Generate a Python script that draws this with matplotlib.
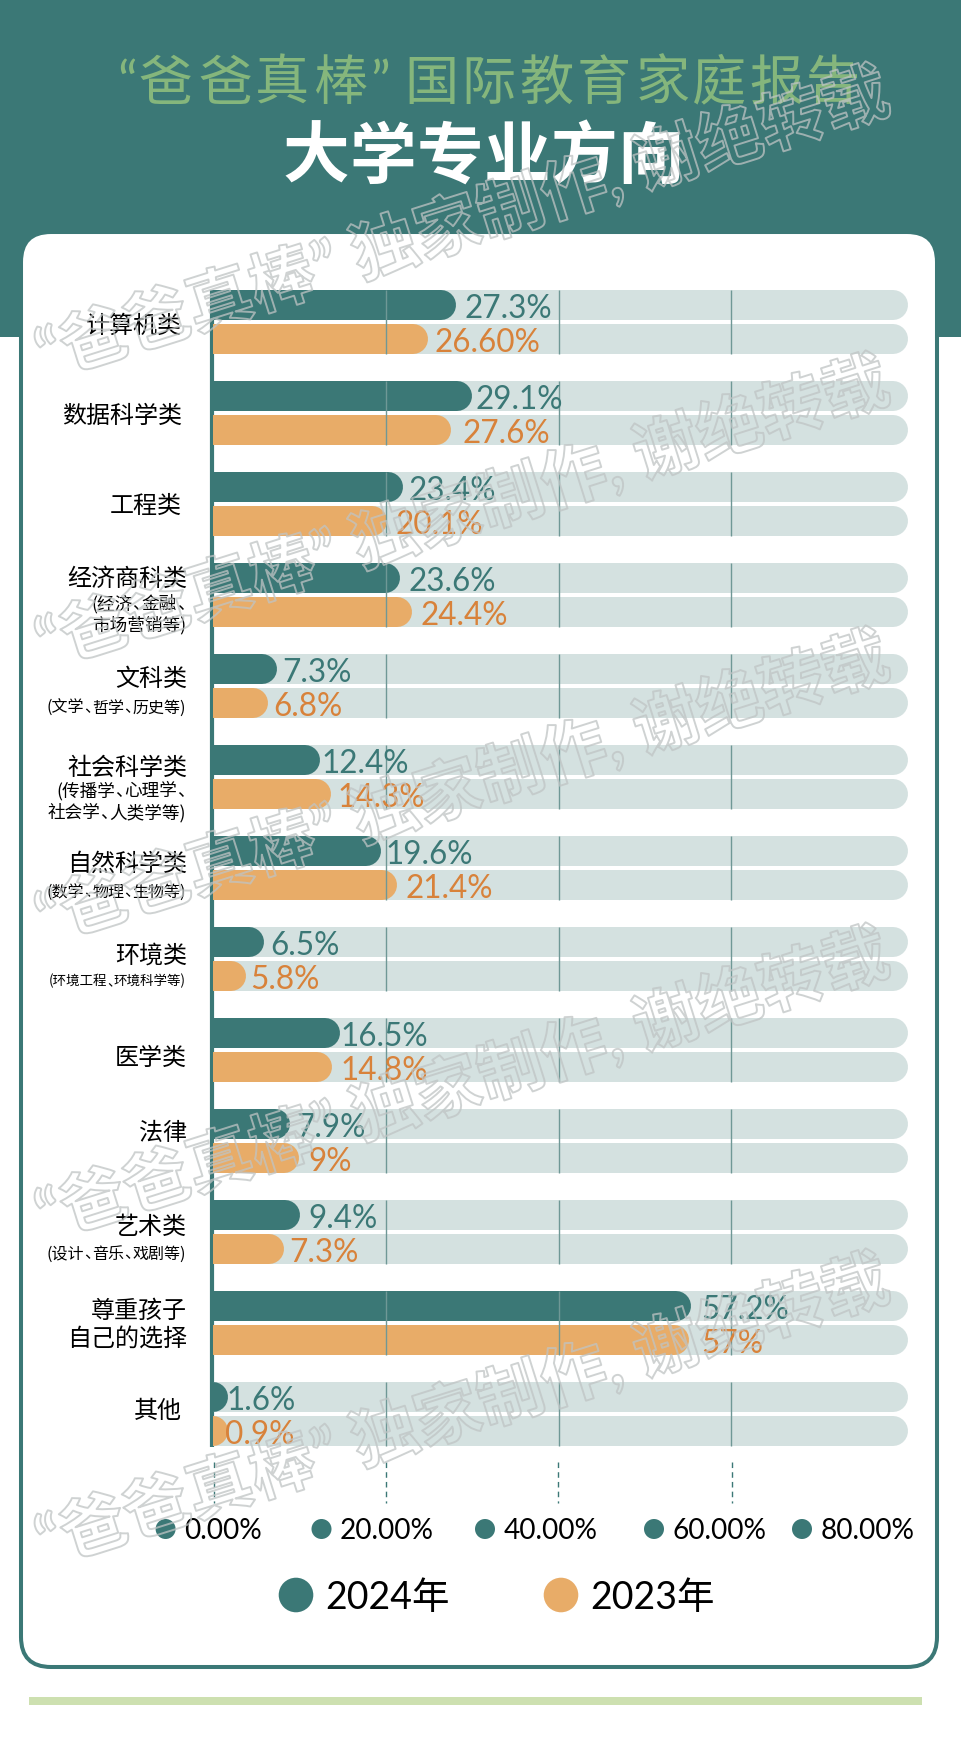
import re
import matplotlib
matplotlib.use("Agg")
import matplotlib.pyplot as plt
import matplotlib.patheffects as pe
import numpy as np
from matplotlib.patches import Rectangle, FancyBboxPatch, Circle

plt.rcParams['font.family'] = ['Lato', 'Noto Sans CJK SC', 'DejaVu Sans']

TEAL = '#3b7876'
ORANGE = '#e8ac68'
TRACK = '#d4e1e0'
ORANGE_TXT = '#d8823a'
GREEN = '#85b67c'

# values as printed
labels_2024 = ['27.3%', '29.1%', '23.4%', '23.6%', '7.3%', '12.4%', '19.6%', '6.5%', '16.5%', '7.9%', '9.4%', '57.2%', '1.6%']
labels_2023 = ['26.60%', '27.6%', '20.1%', '24.4%', '6.8%', '14.3%', '21.4%', '5.8%', '14.8%', '9%', '7.3%', '57%', '0.9%']

# bar lengths as drawn, read against the gridlines (they differ a bit from the printed values)
bars_2024 = [28.1, 30.0, 22.0, 21.6, 7.4, 12.3, 19.4, 5.9, 14.7, 8.9, 10.0, 55.3, 1.0]
bars_2023 = [24.8, 27.5, 20.1, 23.0, 6.3, 13.6, 21.3, 3.8, 13.7, 9.9, 8.2, 55.1, 0.7]
track_end = 80.5

# gap between bar end and its label, in points
gap_2024 = [6, 2.5, 4, 6, 3.5, 1.5, 3.5, 4, 0, 4.5, 6, 7.5, 3]
gap_2023 = [5, 8.5, 6.5, 6, 4, 4.5, 6, 2.5, 6.5, 6.5, 3.5, 9, 4]

grid_ticks = [20, 40, 60]
tick_labels = ['0.00%', '20.00%', '40.00%', '60.00%', '80.00%']
legend_labels = ['2024年', '2023年']

# main category labels: text, right edge, y centre
cat_labels = [
    ('计算机类', 182, 325), ('数据科学类', 182, 415), ('工程类', 182, 505), ('经济商科类', 187, 578),
    ('文科类', 187, 678), ('社会科学类', 187, 767), ('自然科学类', 187, 863), ('环境类', 187, 955),
    ('医学类', 187, 1057), ('法律', 187, 1132), ('艺术类', 187, 1226), ('尊重孩子', 187, 1310),
    ('自己的选择', 187, 1338), ('其他', 182, 1410),
]
# small notes under them: text, y centre, glyph size in px
sub_labels = [
    ('(经济、金融、', 602, 17.6), ('市场营销等)', 623, 17.6), ('(文学、哲学、历史等)', 706, 16),
    ('(传播学、心理学、', 789, 17.6), ('社会学、人类学等)', 811, 17.6), ('(数学、物理、生物等)', 890, 16),
    ('(环境工程、环境科学等)', 979, 13.5), ('(设计、音乐、戏剧等)', 1252, 16),
]

W, H = 962, 1742
fig = plt.figure(figsize=(W / 100, H / 100), dpi=100, facecolor='white')


def px_axes(z):
    ax = fig.add_axes([0, 0, 1, 1], zorder=z)
    ax.set_xlim(0, W)
    ax.set_ylim(H, 0)
    ax.axis('off')
    ax.patch.set_alpha(0)
    return ax


def draw_sub_label(ax, txt, right, y, size):
    # the 、 and brackets are narrow in the original, so lay runs out from the right by hand
    x = right
    fs = size * 0.72
    for part in reversed(re.split('(、)', txt)):
        if not part:
            continue
        if part == '、':
            x -= size * 0.52
        else:
            x -= size * sum(c not in '()' for c in part) + size * 0.34 * sum(c in '()' for c in part)
        ax.text(x, y, part, fontsize=fs, ha='left', va='center', family=['Noto Sans CJK SC'])


bg = px_axes(0)
bg.add_patch(Rectangle((0, 0), W, 337, color=TEAL, lw=0))
bg.add_patch(FancyBboxPatch((21, 232), 916, 1435, boxstyle='round,pad=0,rounding_size=30',
                            fc='white', ec=TEAL, lw=2.9))
bg.add_patch(Rectangle((29.5, 1697), 892.5, 8, color='#cde0b0', lw=0))

# title, placed glyph by glyph for the wide spacing
title_x = [127, 166, 226, 282, 340, 380, 431, 488, 546, 604, 663, 719, 776, 833]
for ch, x in zip('“爸爸真棒”国际教育家庭报告', title_x):
    bg.text(x, 84, ch, color=GREEN, fontsize=39, ha='center', va='center',
            family=['Lato', 'Noto Sans CJK SC'] if ch in '“”' else ['Noto Sans CJK SC'])
for i, ch in enumerate('大学专业方向'):
    bg.text(316 + 67 * i, 158, ch, color='white', fontsize=48, fontweight='bold',
            ha='center', va='center', family=['Noto Sans CJK SC'])

for txt, x, y in cat_labels:
    bg.text(x, y + 0.5, txt, fontsize=17.3, ha='right', va='center', color='black',
            family=['Noto Sans CJK SC'])
for txt, y, size in sub_labels:
    draw_sub_label(bg, txt, 186, y + 2, size)

# axis stub and dashed guides below the bars
bg.plot([212.5, 212.5], [290, 1447], color=TEAL, lw=3, solid_capstyle='butt')
for x in [214, 386, 558, 732]:
    bg.plot([x, x], [1462, 1503], color=TEAL, lw=1, ls=(0, (4, 3)))

# x tick labels with dots
dot_x = [165.6, 321.5, 485, 654, 802]
for x, txt in zip(dot_x, tick_labels):
    bg.add_patch(Circle((x, 1529), 10, color=TEAL, lw=0))
    bg.text(x + 18.5, 1531, txt, fontsize=20.2, ha='left', va='center', color='black')

# legend
for x, txt, c in zip([296, 561], legend_labels, [TEAL, ORANGE]):
    bg.add_patch(Circle((x, 1595), 17.3, color=c, lw=0))
    bg.text(x + 29, 1598, txt, fontsize=27, ha='left', va='center', color='black')

# chart axes: 0% at 213.5px, 8.63 px per percent, rows 91px apart
left_px, right_px = 213.5, 950
top_px, bottom_px = 285, 1450
row0_px, pitch = 322, 91
ax = fig.add_axes([left_px / W, 1 - bottom_px / H, (right_px - left_px) / W, (bottom_px - top_px) / H],
                  zorder=1)
ax.set_xlim(0, (right_px - left_px) / 8.63)
ax.set_ylim((bottom_px - row0_px) / pitch, (top_px - row0_px) / pitch)
ax.axis('off')
ax.patch.set_alpha(0)

rows = np.arange(len(bars_2024))
y_a = rows - 17 / pitch
y_b = rows + 17 / pitch
bar_pt = 30 * 72 / 100
r = 15 / 8.63

ax.hlines(np.r_[y_a, y_b], 0, track_end - r, color=TRACK, lw=bar_pt, capstyle='round', zorder=1)
ax.hlines(y_a, 0, np.array(bars_2024) - r, color=TEAL, lw=bar_pt, capstyle='round', zorder=2)
ax.hlines(y_b, 0, np.array(bars_2023) - r, color=ORANGE, lw=bar_pt, capstyle='round', zorder=2)

for t in grid_ticks:
    ax.vlines(np.full(len(rows), t), rows - 32 / pitch, rows + 32 / pitch, color='#6f9896', lw=1, zorder=3)

for y, v, g, txt in zip(y_a, bars_2024, gap_2024, labels_2024):
    ax.annotate(txt, (v, y), xytext=(g, -3), textcoords='offset points', color=TEAL, fontsize=22.7,
                va='center', ha='left', zorder=4, annotation_clip=False)
for y, v, g, txt in zip(y_b, bars_2023, gap_2023, labels_2023):
    ax.annotate(txt, (v, y), xytext=(g, -3), textcoords='offset points', color=ORANGE_TXT, fontsize=22.7,
                va='center', ha='left', zorder=4, annotation_clip=False)

# watermark on top of everything
wm = px_axes(5)
for y in [358, 647, 922, 1219, 1545]:
    wm.text(38, y, '“爸爸真棒” 独家制作, 谢绝转载', fontsize=47.5, fontweight='bold', color='none',
            rotation=17.5, rotation_mode='anchor', ha='left', va='center',
            path_effects=[pe.Stroke(linewidth=1.4, foreground=(0.75, 0.77, 0.77, 0.75))])

fig.savefig('out.png', dpi=100)
